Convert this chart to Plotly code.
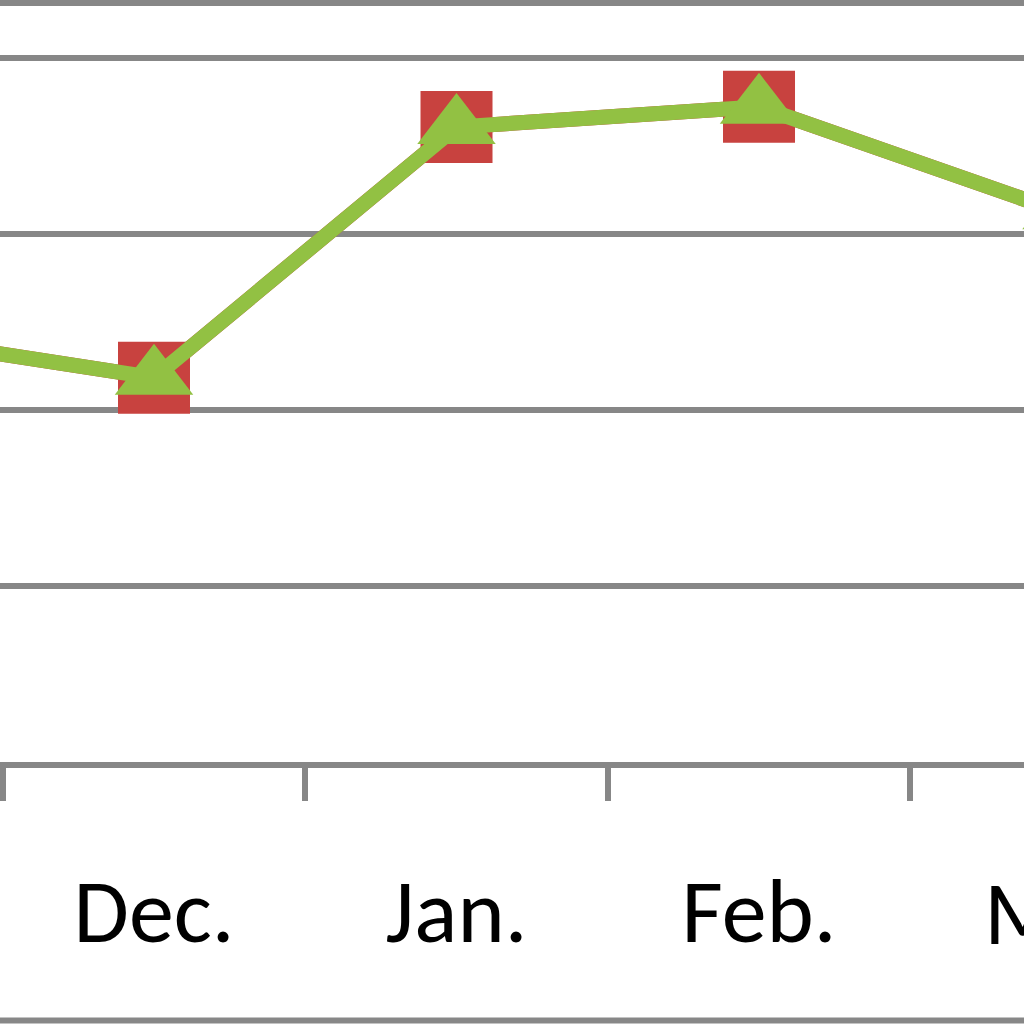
import plotly.graph_objects as go

# Data
months = ["Nov.", "Dec.", "Jan.", "Feb.", "Mar."]
series_red = [49.0, 43.7, 72.2, 74.5, 62.5]
series_green = [49.0, 43.7, 72.2, 74.5, 62.5]

GRID = "#878787"
GREEN = "#92C143"
RED = "#C8423F"
FONT = "Carlito, Calibri, Lato, Liberation Sans, Arial, sans-serif"
FS = 90

fig = go.Figure()
fig.add_trace(go.Scatter(
    x=months, y=series_red, mode="lines+markers",
    line=dict(color=RED, width=15),
    marker=dict(symbol="square", size=72, color=RED),
    showlegend=False, hoverinfo="skip",
))
fig.add_trace(go.Scatter(
    x=months, y=series_green, mode="lines+markers",
    line=dict(color=GREEN, width=15),
    marker=dict(symbol="triangle-up", size=68, color=GREEN),
    showlegend=False, hoverinfo="skip",
))

fig.update_layout(
    width=1024, height=1024,
    margin=dict(l=0, r=0, t=0, b=262, pad=0),
    paper_bgcolor="white", plot_bgcolor="white",
    font=dict(family=FONT, size=FS, color="black"),
    xaxis=dict(
        type="category", categoryorder="array", categoryarray=months,
        range=[0.4909, 3.876],
        tickmode="array", tickvals=months[1:4], ticktext=months[1:4],
        showgrid=False, zeroline=False,
        showline=True, linewidth=6, linecolor=GRID,
        ticks="outside", ticklen=33, tickwidth=6, tickcolor=GRID,
        tickson="boundaries", ticklabelstandoff=66,
    ),
    yaxis=dict(
        range=[0, 86.64], dtick=20, tick0=0,
        showgrid=True, gridcolor=GRID, gridwidth=6,
        zeroline=False, showticklabels=False, ticks="",
        showline=False,
    ),
    shapes=[
        dict(type="line", xref="paper", yref="paper", x0=0, x1=1,
             y0=(762 - 3) / 762, y1=(762 - 3) / 762,
             line=dict(color=GRID, width=6)),
        dict(type="line", xref="paper", yref="paper", x0=0, x1=1,
             y0=(762 - 1020.5) / 762, y1=(762 - 1020.5) / 762,
             line=dict(color=GRID, width=6)),
    ],
    annotations=[
        dict(x=1066 / 1024, y=(762 - 913) / 762, xref="paper", yref="paper",
             text="Mar.", showarrow=False, xanchor="center", yanchor="middle",
             font=dict(family=FONT, size=FS, color="black")),
    ],
)

fig.write_html("out.html", config={"displayModeBar": False},
               post_script="document.body.style.margin='0px';document.body.style.overflow='hidden';")
